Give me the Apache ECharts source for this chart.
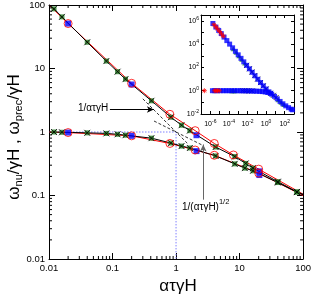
<!DOCTYPE html>
<html><head><meta charset="utf-8">
<script src="https://cdn.jsdelivr.net/npm/echarts@6/dist/echarts.min.js"></script>
<style>html,body{margin:0;padding:0;background:#fff}#c{width:314px;height:296px}</style>
</head><body><div id="c"></div>
<script>
// ---- main plot data ----
const mainTickLabels = {'-2':'0.01','-1':'0.1','0':'1','1':'10','2':'100'};
const redUpperX = [0.01, 0.02, 0.2, 0.8, 2, 4, 8, 20, 100];
const redUpperY = [100, 51, 5.85, 1.9, 1.05, 0.66, 0.435, 0.26, 0.105];
const redLowerX = [0.01, 0.02, 0.2, 0.8, 2, 4, 20, 100];
const redLowerY = [1.0, 0.98, 0.87, 0.66, 0.52, 0.43, 0.225, 0.1];
const blackUpperX = [0.01, 0.012, 0.016, 0.04, 0.08, 0.12, 0.16, 0.41, 0.83, 1.22, 1.65, 4.2, 8.4, 12.5, 16.3, 40, 80, 100];
const blackUpperY = [100, 87, 65, 25.9, 13.1, 8.9, 6.8, 3.1, 1.71, 1.28, 1.05, 0.58, 0.41, 0.32, 0.27, 0.165, 0.114, 0.104];
const blackLowerX = [0.01, 0.012, 0.016, 0.04, 0.08, 0.12, 0.16, 0.41, 0.83, 1.22, 1.65, 4.2, 8.4, 12.1, 16.3, 40, 80, 100];
const blackLowerY = [1.0, 1.0, 0.99, 0.97, 0.95, 0.92, 0.89, 0.8, 0.67, 0.6, 0.56, 0.42, 0.315, 0.27, 0.245, 0.16, 0.113, 0.103];
const blueX = [0.02, 0.2, 2.1, 20.5];
const blueUpperY = [51, 5.6, 0.89, 0.24];
const blueLowerY = [0.98, 0.87, 0.5, 0.21];
const guideX = [0.01, 1, 1];
const guideY = [1, 1, 0.01];
const asym1X = [0.3, 1.5];
const asym1Y = [3.33, 0.667];
const asym2X = [0.45, 2.6];
const asym2Y = [1.49, 0.62];
// ---- inset data ----
const insetBlue = [[1.9e-6,5.9e5],[4e-6,2.9e5],[8e-6,1.5e5],[1.5e-5,8e4],[3e-5,4e4],[6e-5,2e4],[1.2e-4,1e4],[2.5e-4,4.8e3],[5e-4,2.4e3],[1e-3,1.2e3],[2e-3,600],[4e-3,300],[8e-3,150],[1.6e-2,76],[3.2e-2,38],[6.4e-2,19],[0.13,9.5],[0.25,5],[0.5,2.6],[1,1.4],[2,0.8],[4,0.5],[8,0.33],[16,0.2],[32,0.12],[64,0.075],[130,0.05],[260,0.035],[500,0.026],[700,0.023],
  [1.7e-6,1],[3e-6,1],[6e-6,1],[1.2e-5,1],[2.5e-5,1],[5e-5,1],[1e-4,1],[2e-4,1],[4e-4,1],[8e-4,1],[1.6e-3,0.99],[3.2e-3,0.98],[6.4e-3,0.97],[1.3e-2,0.96],[2.6e-2,0.95],[5e-2,0.93],[0.1,0.91],[0.2,0.88],[0.4,0.84],[0.8,0.78],[1.5,0.7],[3,0.6]];
const insetRed = [[2.5e-6,4.6e5],[4e-6,3e5],[6e-6,2e5],[1e-5,1.2e5],[1.6e-5,7.5e4],[2.5e-5,4.8e4],[2.3e-7,1],[3e-6,1],[4e-6,1],[6e-6,1],[9e-6,1]];
const insetGreen = [[3e-4,4e3],[6e-4,2e3],[1.2e-3,1e3],[2.4e-3,500],[5e-3,240],[2e-4,1],[3e-4,1],[5e-4,1],[20,0.17],[40,0.1],[80,0.065]];
const insetBlack = [[8e-3,150],[1.6e-2,76],[3e-2,40],[0.06,20],[0.12,10],[0.25,5],[0.5,2.6],[1,1.4],[3e-3,1],[5e-3,0.99],[8e-3,0.98],[1.5e-2,0.97],[3e-2,0.96],[3,0.6],[6,0.4],[12,0.26]];

function pairs(xs, ys){ return xs.map((x,i)=>[x, ys[i]]); }
function inner(xs, ys){ return pairs(xs, ys).filter(p => p[0] > 0.01 && p[0] < 100); }

const minorVals = [];
for (let k = -2; k < 2; k++) for (let m = 2; m <= 9; m++) minorVals.push(m * Math.pow(10, k));

const FONT = 'Liberation Sans, Arial, sans-serif';
const XPATH = 'path://M0,0L10,10M10,0L0,10';

function mainAxis(pos, showLabel){
  return {
    type: 'log', logBase: 10, min: 0.01, max: 100, interval: 1, gridIndex: 0, position: pos,
    axisLine: {show: true, onZero: false, lineStyle: {color: '#000', width: 1}},
    axisTick: {show: true, inside: true, length: 6, lineStyle: {color: '#000'}},
    axisLabel: {show: showLabel, fontSize: 9.5, color: '#000', fontFamily: FONT, margin: 4,
      formatter: v => mainTickLabels[String(Math.round(Math.log10(v)))] || ''},
    splitLine: {show: false}, minorTick: {show: false}
  };
}
function insetLabel(v){
  const e = Math.round(Math.log10(v));
  if (e % 2 !== 0) return '';
  return '{b|10}{s|' + e + '}';
}
const insetRich = {b: {fontSize: 7, fontFamily: FONT, color: '#000'}, s: {fontSize: 5, fontFamily: FONT, color: '#000', padding: [0,0,5,0]}};
function insetAxis(pos, showLabel, isX){
  return {
    type: 'log', logBase: 10, gridIndex: 1, position: pos, z: 10,
    min: isX ? 1e-7 : 0.01, max: isX ? 1000 : 3.16e6, interval: 1,
    axisLine: {show: true, onZero: false, lineStyle: {color: '#000', width: 1}},
    axisTick: {show: true, inside: true, length: 3, lineStyle: {color: '#000'}},
    axisLabel: {show: showLabel, margin: isX ? 5 : 2, formatter: insetLabel, rich: insetRich, showMaxLabel: false},
    splitLine: {show: false}
  };
}

const chart = echarts.init(document.getElementById('c'), null, {renderer: 'canvas'});
const option = {
  animation: false,
  backgroundColor: '#fff',
  grid: [
    {left: 49, top: 5, width: 255, height: 254},
    {left: 201, top: 15, width: 93, height: 99}
  ],
  xAxis: [mainAxis('bottom', true), mainAxis('top', false), insetAxis('bottom', true, true), insetAxis('top', false, true)],
  yAxis: [mainAxis('left', true), mainAxis('right', false), insetAxis('left', true, false), insetAxis('right', false, false)],
  series: [
    {type: 'line', data: pairs(guideX, guideY), showSymbol: false, lineStyle: {color: '#8080ff', width: 1, type: [1.5, 1.5]}, z: 1,
     markLine: {silent: true, symbol: ['none', 'arrow'], symbolSize: [5, 7], label: {show: false},
       data: [
         [{coord: [0.091, 2.26], lineStyle: {color: '#000', width: 1, type: 'solid'}}, {coord: [0.448, 2.26]}],
         [{coord: [2.68, 0.086], lineStyle: {color: '#666', width: 1, type: 'solid'}}, {coord: [2.68, 0.635]}]
       ]}},
    {type: 'line', data: pairs(asym1X, asym1Y), showSymbol: false, lineStyle: {color: '#000', width: 0.8, type: [3, 2]}, z: 2},
    {type: 'line', data: pairs(asym2X, asym2Y), showSymbol: false, lineStyle: {color: '#000', width: 0.8, type: [3, 2]}, z: 2},
    {type: 'line', data: pairs(redUpperX, redUpperY), showSymbol: false, lineStyle: {color: '#ff0000', width: 1}, z: 3},
    {type: 'line', data: pairs(redLowerX, redLowerY), showSymbol: false, lineStyle: {color: '#ff0000', width: 1}, z: 3},
    {type: 'line', data: pairs(blackUpperX, blackUpperY), showSymbol: false, lineStyle: {color: '#000', width: 1}, z: 3},
    {type: 'line', data: pairs(blackLowerX, blackLowerY), showSymbol: false, lineStyle: {color: '#000', width: 1}, z: 3},
    {type: 'scatter', data: inner(blackUpperX, blackUpperY).concat(inner(blackLowerX, blackLowerY)), symbol: 'rect', symbolSize: 5,
     itemStyle: {color: '#1f7a1f'}, z: 4},
    {type: 'scatter', data: inner(blackUpperX, blackUpperY).concat(inner(blackLowerX, blackLowerY)), symbol: XPATH, symbolSize: 6,
     itemStyle: {color: 'none', borderColor: '#000', borderWidth: 1}, z: 5},
    {type: 'scatter', data: pairs(blueX, blueUpperY).concat(pairs(blueX, blueLowerY)), symbol: 'rect', symbolSize: 6,
     itemStyle: {color: '#0000ff'}, z: 6},
    {type: 'scatter', data: inner(redUpperX, redUpperY).concat(inner(redLowerX, redLowerY)), symbol: 'circle', symbolSize: 8,
     itemStyle: {color: 'none', borderColor: '#ff0000', borderWidth: 1}, z: 7},
    {type: 'custom', coordinateSystem: 'cartesian2d', xAxisIndex: 0, yAxisIndex: 0, clip: false, silent: true, z: 8,
     data: minorVals.map(v => [v, v]),
     renderItem: function(params, api){
       const v = api.value(0);
       const b = api.coord([v, 0.01]), t = api.coord([v, 100]), l = api.coord([0.01, v]), r = api.coord([100, v]);
       const st = {stroke: '#000', lineWidth: 1};
       return {type: 'group', children: [
         {type: 'line', shape: {x1: b[0], y1: b[1], x2: b[0], y2: b[1] - 3}, style: st},
         {type: 'line', shape: {x1: t[0], y1: t[1], x2: t[0], y2: t[1] + 3}, style: st},
         {type: 'line', shape: {x1: l[0], y1: l[1], x2: l[0] + 3, y2: l[1]}, style: st},
         {type: 'line', shape: {x1: r[0], y1: r[1], x2: r[0] - 3, y2: r[1]}, style: st}
       ]};
     }},
    // inset
    {type: 'scatter', xAxisIndex: 2, yAxisIndex: 2, data: insetGreen, symbol: 'triangle', symbolSize: 5, itemStyle: {color: '#1f8a1f'}, z: 10},
    {type: 'scatter', xAxisIndex: 2, yAxisIndex: 2, data: insetBlack, symbol: XPATH, symbolSize: 5, itemStyle: {color: 'none', borderColor: '#000', borderWidth: 1}, z: 10},
    {type: 'scatter', xAxisIndex: 2, yAxisIndex: 2, data: insetBlue, symbol: 'rect', symbolSize: 5, itemStyle: {color: '#0000ff'}, z: 11},
    {type: 'scatter', xAxisIndex: 2, yAxisIndex: 2, data: insetRed, symbol: 'path://M0,5L10,5M5,0L5,10M1.5,1.5L8.5,8.5M8.5,1.5L1.5,8.5', symbolSize: 5, itemStyle: {color: 'none', borderColor: '#ff0000', borderWidth: 1}, z: 12}
  ],
  graphic: [
    {type: 'text', x: 78, y: 108, style: {text: '1/ατγH', font: '10px ' + FONT, fill: '#000', verticalAlign: 'middle'}},
    {type: 'text', x: 182, y: 207, style: {text: '1/(ατγH){sup|1/2}', font: '10px ' + FONT, fill: '#000', verticalAlign: 'middle',
      rich: {sup: {font: '7.5px ' + FONT, fill: '#000', padding: [0, 0, 10, 0]}}}},
    {type: 'text', x: 178, y: 286, style: {text: 'ατγH', font: '17px ' + FONT, fill: '#000', align: 'center', verticalAlign: 'middle'}},
    {type: 'text', x: 14, y: 137, rotation: Math.PI / 2, style: {text: 'ω{sub|nu}/γH , ω{sub|prec}/γH', font: '17px ' + FONT, fill: '#000', align: 'center', verticalAlign: 'middle',
      rich: {sub: {font: '11px ' + FONT, fill: '#000', padding: [9, 0, 0, 0]}}}}
  ]
};
chart.setOption(option);
</script></body></html>
